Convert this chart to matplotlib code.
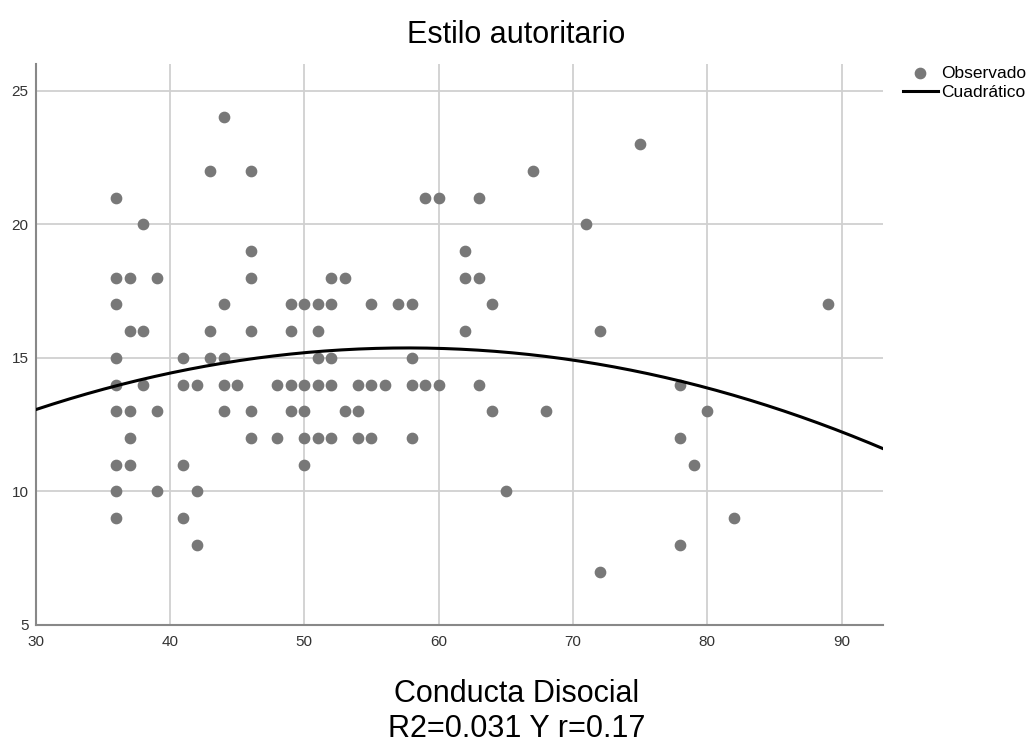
import numpy as np
import matplotlib
matplotlib.use("Agg")
import matplotlib.pyplot as plt

plt.rcParams['font.family'] = ['Liberation Sans', 'DejaVu Sans']

# observed points (Conducta Disocial, Estilo autoritario)
x_obs = [36, 36, 36, 36, 36, 36, 36, 36, 36,
         37, 37, 37, 37, 37,
         38, 38, 38,
         39, 39, 39,
         41, 41, 41, 41,
         42, 42, 42,
         43, 43, 43,
         44, 44, 44, 44, 44,
         45,
         46, 46, 46, 46, 46, 46,
         48, 48,
         49, 49, 49, 49,
         50, 50, 50, 50, 50,
         51, 51, 51, 51, 51,
         52, 52, 52, 52, 52,
         53, 53,
         54, 54, 54,
         55, 55, 55,
         56, 57,
         58, 58, 58, 58,
         59, 59, 60, 60,
         62, 62, 62,
         63, 63, 63,
         64, 64,
         65, 67, 68, 71,
         72, 72,
         75,
         78, 78, 78,
         79, 80, 82, 89]
y_obs = [21, 18, 17, 15, 14, 13, 11, 10, 9,
         18, 16, 13, 12, 11,
         20, 16, 14,
         18, 13, 10,
         15, 14, 11, 9,
         14, 10, 8,
         22, 16, 15,
         24, 17, 15, 14, 13,
         14,
         22, 19, 18, 16, 13, 12,
         14, 12,
         17, 16, 14, 13,
         17, 14, 13, 12, 11,
         17, 16, 15, 14, 12,
         18, 17, 15, 14, 12,
         18, 13,
         14, 13, 12,
         17, 14, 12,
         14, 17,
         17, 15, 14, 12,
         21, 14, 21, 14,
         19, 18, 16,
         21, 18, 14,
         17, 13,
         10, 22, 13, 20,
         16, 7,
         23,
         14, 12, 8,
         11, 13, 9, 17]

# quadratic fit coefficients (b0 + b1*x + b2*x^2)
b0, b1, b2 = 5.349, 0.34735, -0.00301

fig = plt.figure(figsize=(10.33, 7.44), dpi=100)
ax = fig.add_axes([0.0345, 0.16, 0.8205, 0.754])

ax.grid(True, color="#d0d0d0", linewidth=1.3)
ax.set_axisbelow(True)

ax.scatter(x_obs, y_obs, s=55, color="#787878", zorder=3, label="Observado")
xx = np.linspace(30, 93.1, 300)
ax.plot(xx, b0 + b1 * xx + b2 * xx ** 2, color="black", linewidth=2.2,
        zorder=4, label="Cuadrático")

ax.set_xlim(30, 93.1)
ax.set_ylim(5, 26)
ax.set_xticks([30, 40, 50, 60, 70, 80, 90])
ax.set_yticks([5, 10, 15, 20, 25])
ax.tick_params(length=0, labelsize=11, colors="#333333")
ax.tick_params(axis="y", pad=5)
ax.tick_params(axis="x", pad=7)

for s in ["top", "right"]:
    ax.spines[s].set_visible(False)
for s in ["left", "bottom"]:
    ax.spines[s].set_color("#888888")
    ax.spines[s].set_linewidth(1.5)

fig.text(0.5, 0.942, "Estilo autoritario", ha="center", va="baseline", fontsize=22)
fig.text(0.5, 0.0565, "Conducta Disocial", ha="center", va="baseline", fontsize=22)
fig.text(0.5, 0.0095, "R2=0.031 Y r=0.17", ha="center", va="baseline", fontsize=22)

fig.legend(loc="upper left", bbox_to_anchor=(0.874, 0.912), frameon=False,
           fontsize=12.5, handlelength=2.0, handletextpad=0.2,
           labelspacing=0.27, borderaxespad=0, borderpad=0)

fig.savefig("out.png", dpi=100)
